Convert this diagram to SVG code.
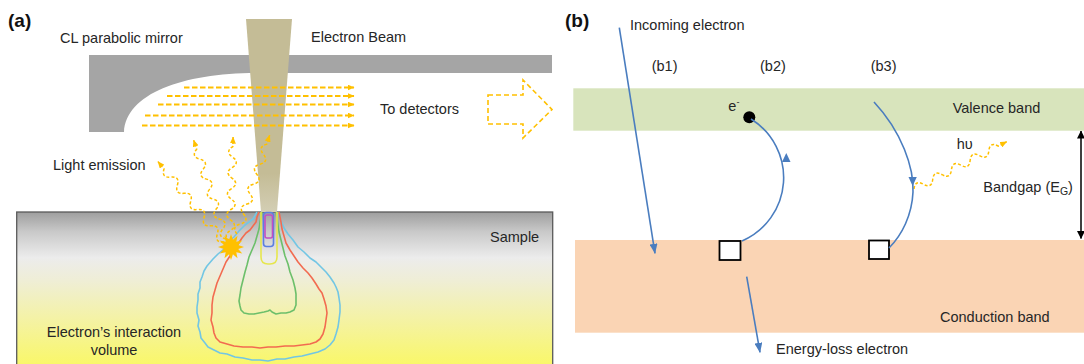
<svg xmlns="http://www.w3.org/2000/svg" width="1084" height="364" viewBox="0 0 1084 364">
  <style>
    text { font-family: "Liberation Sans", Arial, sans-serif; font-size: 14.5px; fill: #262626; }
    .panel { font-weight: bold; font-size: 19px; fill: #111; }
    .ray { fill: none; stroke: #ffc000; stroke-width: 1.8; stroke-dasharray: 5.5 2.5; marker-end: url(#ah-o); }
    .wave { fill: none; stroke: #ffc000; stroke-width: 1.5; stroke-dasharray: 3 2; marker-end: url(#ah-o); }
    .blue { fill: none; stroke: #4a7dbf; stroke-width: 1.6; }
    .blue-arrow { fill: none; stroke: #4a7dbf; stroke-width: 1.6; marker-end: url(#ah-b); }
    .hole { fill: #ffffff; stroke: #000; stroke-width: 1.8; }
    .contour { fill: none; stroke-width: 1.6; stroke-linejoin: round; }
  </style>
  <defs>
    <marker id="ah-o" viewBox="0 0 7 6" refX="6.5" refY="3" markerWidth="7" markerHeight="6" markerUnits="userSpaceOnUse" orient="auto">
      <path d="M0,0 L7,3 L0,6 Z" fill="#ffc000"/>
    </marker>
    <marker id="ah-b" viewBox="0 0 10 8" refX="9.5" refY="4" markerWidth="10" markerHeight="8" markerUnits="userSpaceOnUse" orient="auto">
      <path d="M0,0 L10,4 L0,8 Z" fill="#4a7dbf"/>
    </marker>
    <marker id="ah-k" viewBox="0 0 8 8" refX="7.5" refY="4" markerWidth="8" markerHeight="8" markerUnits="userSpaceOnUse" orient="auto-start-reverse">
      <path d="M0,0 L8,4 L0,8 Z" fill="#000"/>
    </marker>
    <linearGradient id="sample-fill" gradientUnits="userSpaceOnUse" x1="0" y1="212" x2="0" y2="364">
      <stop offset="0" stop-color="#9e9e9e"/>
      <stop offset="0.13" stop-color="#c9c9c9"/>
      <stop offset="0.3" stop-color="#ececec"/>
      <stop offset="0.45" stop-color="#efeed6"/>
      <stop offset="0.75" stop-color="#f5f39c"/>
      <stop offset="1" stop-color="#f9f76a"/>
    </linearGradient>
    <linearGradient id="beam-fill" gradientUnits="userSpaceOnUse" x1="0" y1="19" x2="0" y2="212">
      <stop offset="0" stop-color="#c4bc96"/>
      <stop offset="0.8" stop-color="#c4bc96"/>
      <stop offset="1" stop-color="#d3ceb4"/>
    </linearGradient>
    <!-- photon: wavy line along +x, 104 px long -->
    <path id="photon" d="M0,0 Q5.25,-8 10.5,0 T21,0 T31.5,0 T42,0 T52.5,0 T63,0 T73.5,0 T84,0 T94.5,0 L104,0"/>
  </defs>

  <!-- ===== (a) cathodoluminescence set-up ===== -->
  <text class="panel" x="8" y="27">(a)</text>

  <g id="mirror">
    <path d="M89,55 H552 V73 H256 C182,73 126,94 124,132 H89 Z" fill="#a5a5a5"/>
    <text x="60" y="43">CL parabolic mirror</text>
  </g>

  <g id="sample">
    <rect x="16.7" y="212" width="536" height="160" fill="url(#sample-fill)" stroke="#5a5a5a" stroke-width="1.3"/>
    <text x="490" y="242">Sample</text>
    <text x="114" y="337" text-anchor="middle">Electron’s interaction</text>
    <text x="114" y="355" text-anchor="middle">volume</text>
  </g>

  <g id="electron-beam">
    <polygon points="246,19 292,19 277,212 261,212" fill="url(#beam-fill)"/>
    <text x="311" y="41.5">Electron Beam</text>
  </g>

  <g id="interaction-volume">
    <polyline class="contour" stroke="#72c6e4" points="257,212 253,219 245,225 239,231 234,237 228,242 224,249 218,254 213,259 207,266 204,271 202,277 200,282 200,288 198,294 198,300 197,307 197,313 199,320 198,326 200,332 201,338 205,343 208,347 214,350 220,353 227,354 235,357 243,358 252,360 260,360 268,361 277,359 285,359 294,357 302,356 310,354 318,352 325,349 330,345 334,340 336,334 338,327 339,320 340,312 340,305 339,298 338,292 336,287 334,283 330,277 326,272 321,267 316,262 310,258 304,252 298,247 293,240 288,234 284,228 282,223 280,218 278,212"/>
    <polyline class="contour" stroke="#f26b50" points="259,212 257,217 256,222 253,226 250,230 246,233 242,238 238,244 234,250 230,256 226,262 223,269 220,276 217,283 215,290 213,297 212,305 212,313 211,320 213,327 214,333 216,338 220,342 227,344 234,346 243,347 252,347 260,348 268,347 276,347 285,346 294,346 302,345 310,344 316,342 320,339 323,334 325,327 326,320 327,313 326,306 324,299 322,293 319,289 316,284 312,278 308,273 303,268 298,262 294,256 290,250 286,243 284,236 282,229 281,222 280,217 279,212"/>
    <polyline class="contour" stroke="#6cbf6a" points="262,212 261,217 260,222 259,229 257,236 255,243 252,250 249,257 247,265 245,272 243,280 241,288 240,295 239,301 240,306 241,310 244,313 249,314 254,314 259,313 264,312 268,311 270,310 272,312 276,314 281,313 286,313 290,312 294,310 296,305 296,300 296,294 295,288 293,280 290,272 288,264 285,256 283,248 281,240 279,232 278,225 277,218 276,212"/>
    <path class="contour" stroke="#e6e64e" d="M261,212 V257 Q261,264 268,264 H270 Q277,264 277,257 V212"/>
    <rect class="contour" stroke="#5b7fe0" x="263.5" y="212.5" width="10" height="34" rx="3"/>
    <rect class="contour" stroke="#c04fc4" x="265" y="215" width="7.5" height="23" rx="2"/>
  </g>

  <g id="collected-light">
    <path class="ray" d="M184,87.5 H354"/>
    <path class="ray" d="M167,96 H354"/>
    <path class="ray" d="M158,104.5 H354"/>
    <path class="ray" d="M145,115.5 H354"/>
    <path class="ray" d="M142,125.5 H354"/>
    <polygon points="488,95 523,95 523,80 552,109.5 523,138 523,124 488,124" fill="none" stroke="#ffc000" stroke-width="1.6" stroke-dasharray="5 3"/>
    <text x="380" y="113.5">To detectors</text>
  </g>

  <g id="light-emission">
    <use href="#photon" class="wave" transform="translate(224,242) rotate(-129.4)"/>
    <use href="#photon" class="wave" transform="translate(226,239) rotate(-108.1)"/>
    <use href="#photon" class="wave" transform="translate(230,241) rotate(-88.3)"/>
    <use href="#photon" class="wave" transform="translate(237,234) rotate(-71.7)"/>
    <polygon fill="#ffc000" points="231,234 232.94,239.76 237.5,235.74 236.3,241.7 242.26,240.5 238.24,245.06 244,247 238.24,248.94 242.26,253.5 236.3,252.3 237.5,258.26 232.94,254.24 231,260 229.06,254.24 224.5,258.26 225.7,252.3 219.74,253.5 223.76,248.94 218,247 223.76,245.06 219.74,240.5 225.7,241.7 224.5,235.74 229.06,239.76"/>
    <text x="53" y="169.5">Light emission</text>
  </g>

  <!-- ===== (b) band diagram ===== -->
  <text class="panel" x="565" y="27">(b)</text>

  <g id="valence-band">
    <rect x="573.3" y="88.3" width="511" height="42.4" fill="#d8e4bc"/>
    <text x="952.7" y="112.5">Valence band</text>
  </g>

  <g id="conduction-band">
    <rect x="575" y="240" width="509" height="92.7" fill="#fad4b4"/>
    <text x="940" y="322">Conduction band</text>
  </g>

  <g id="labels-b">
    <text x="651.7" y="71">(b1)</text>
    <text x="760" y="71">(b2)</text>
    <text x="870.7" y="71">(b3)</text>
    <text x="630" y="29.5">Incoming electron</text>
    <text x="776" y="353.5">Energy-loss electron</text>
  </g>

  <g id="b2-excitation">
    <circle cx="749.3" cy="117.3" r="6" fill="#000"/>
    <text x="728.3" y="111">e<tspan dy="-6" font-size="9">-</tspan></text>
    <rect class="hole" x="719.5" y="241" width="21" height="19"/>
  </g>

  <g id="b3-recombination">
    <rect class="hole" x="869" y="240.5" width="20" height="18.5"/>
    <use href="#photon" class="wave" transform="translate(914,189) rotate(-27)"/>
    <text x="956.7" y="148.5">hυ</text>
  </g>

  <g id="bandgap">
    <line x1="1081" y1="131" x2="1081" y2="238.5" stroke="#000" stroke-width="1.5" marker-start="url(#ah-k)" marker-end="url(#ah-k)"/>
    <text x="983.3" y="192">Bandgap (E<tspan dy="3" font-size="10.5">G</tspan><tspan dy="-3">)</tspan></text>
  </g>

  <g id="connectors">
    <path class="blue-arrow" d="M619.3,27.7 L655,253.3"/>
    <path class="blue-arrow" d="M746.7,276.7 L760,352.3"/>
    <path class="blue" d="M751,119 A69,69 0 0 1 742,241"/>
    <polygon points="786.3,153 782,162 790.5,162" fill="#4a7dbf"/>
    <path class="blue" d="M874,102 C902,132 914,168 913,192 C912,215 902,235 889,248"/>
    <polygon points="912.6,186 908.5,177 916.8,177" fill="#4a7dbf"/>
  </g>
</svg>
